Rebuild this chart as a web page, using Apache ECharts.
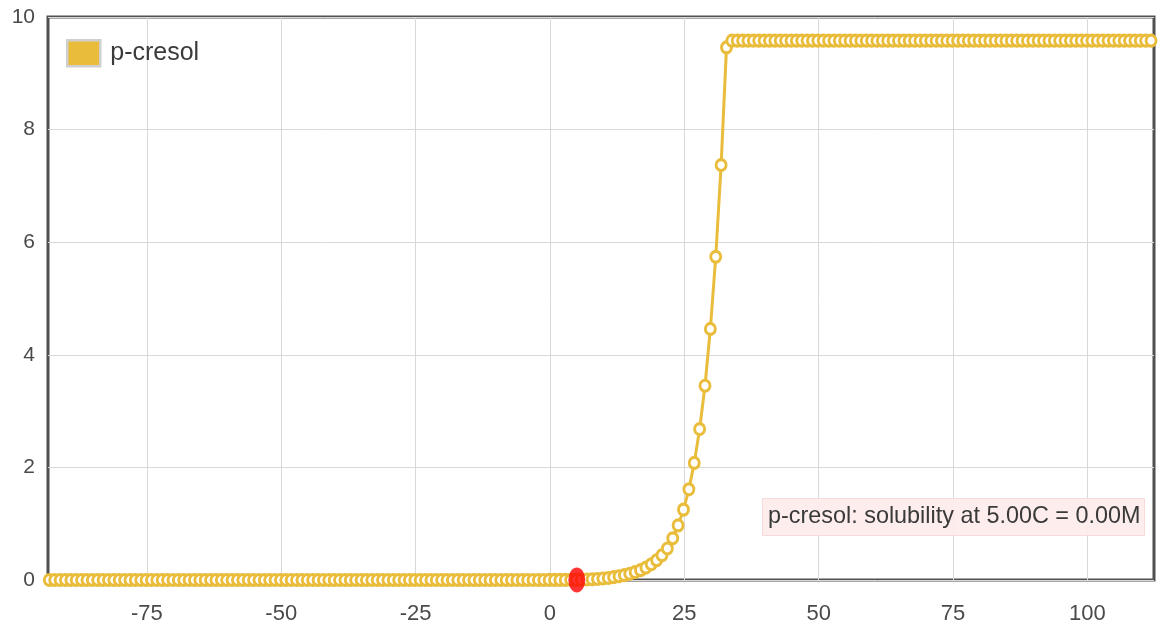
<!DOCTYPE html>
<html>
<head>
<meta charset="utf-8">
<script src="https://cdn.jsdelivr.net/npm/echarts@6/dist/echarts.min.js"></script>
<style>
  html, body { margin: 0; padding: 0; background: #fff; }
  #chart { width: 1160px; height: 629px; }
</style>
</head>
<body>
<div id="chart"></div>
<script>
// p-cresol solubility (M) versus temperature (°C), one sample per kelvin
const seriesName = 'p-cresol';

const tempC = [
  -93.15, -92.15, -91.15, -90.15, -89.15, -88.15, -87.15, -86.15, -85.15, -84.15,
  -83.15, -82.15, -81.15, -80.15, -79.15, -78.15, -77.15, -76.15, -75.15, -74.15,
  -73.15, -72.15, -71.15, -70.15, -69.15, -68.15, -67.15, -66.15, -65.15, -64.15,
  -63.15, -62.15, -61.15, -60.15, -59.15, -58.15, -57.15, -56.15, -55.15, -54.15,
  -53.15, -52.15, -51.15, -50.15, -49.15, -48.15, -47.15, -46.15, -45.15, -44.15,
  -43.15, -42.15, -41.15, -40.15, -39.15, -38.15, -37.15, -36.15, -35.15, -34.15,
  -33.15, -32.15, -31.15, -30.15, -29.15, -28.15, -27.15, -26.15, -25.15, -24.15,
  -23.15, -22.15, -21.15, -20.15, -19.15, -18.15, -17.15, -16.15, -15.15, -14.15,
  -13.15, -12.15, -11.15, -10.15, -9.15, -8.15, -7.15, -6.15, -5.15, -4.15,
  -3.15, -2.15, -1.15, -0.15, 0.85, 1.85, 2.85, 3.85, 4.85, 5.85,
  6.85, 7.85, 8.85, 9.85, 10.85, 11.85, 12.85, 13.85, 14.85, 15.85,
  16.85, 17.85, 18.85, 19.85, 20.85, 21.85, 22.85, 23.85, 24.85, 25.85,
  26.85, 27.85, 28.85, 29.85, 30.85, 31.85, 32.85, 33.85, 34.85, 35.85,
  36.85, 37.85, 38.85, 39.85, 40.85, 41.85, 42.85, 43.85, 44.85, 45.85,
  46.85, 47.85, 48.85, 49.85, 50.85, 51.85, 52.85, 53.85, 54.85, 55.85,
  56.85, 57.85, 58.85, 59.85, 60.85, 61.85, 62.85, 63.85, 64.85, 65.85,
  66.85, 67.85, 68.85, 69.85, 70.85, 71.85, 72.85, 73.85, 74.85, 75.85,
  76.85, 77.85, 78.85, 79.85, 80.85, 81.85, 82.85, 83.85, 84.85, 85.85,
  86.85, 87.85, 88.85, 89.85, 90.85, 91.85, 92.85, 93.85, 94.85, 95.85,
  96.85, 97.85, 98.85, 99.85, 100.85, 101.85, 102.85, 103.85, 104.85, 105.85,
  106.85, 107.85, 108.85, 109.85, 110.85, 111.85
];

const solubility = [
  0, 0, 0, 0, 0, 0, 0, 0, 0, 0,
  0, 0, 0, 0, 0, 0, 0, 0, 0, 0,
  0, 0, 0, 0, 0, 0, 0, 0, 0, 0,
  0, 0, 0, 0, 0, 0, 0, 0, 0, 0,
  0, 0, 0, 0, 0, 0, 0, 0, 0, 0,
  0, 0, 0, 0, 0, 0, 0, 0, 0, 0,
  0, 0, 0, 0, 0, 0, 0, 0, 0, 0,
  0, 0, 0, 0, 0, 0, 0, 0, 0, 0,
  0, 0, 0, 0, 0, 0, 0, 0, 0, 0,
  0, 0, 0, 0.001, 0.001, 0.0015, 0.002, 0.0025, 0.003, 0.005,
  0.008, 0.012, 0.018, 0.026, 0.036, 0.05, 0.066, 0.086, 0.11, 0.14,
  0.175, 0.22, 0.28, 0.35, 0.44, 0.56, 0.74, 0.97, 1.25, 1.61,
  2.08, 2.68, 3.45, 4.46, 5.74, 7.37, 9.46, 9.58, 9.58, 9.58,
  9.58, 9.58, 9.58, 9.58, 9.58, 9.58, 9.58, 9.58, 9.58, 9.58,
  9.58, 9.58, 9.58, 9.58, 9.58, 9.58, 9.58, 9.58, 9.58, 9.58,
  9.58, 9.58, 9.58, 9.58, 9.58, 9.58, 9.58, 9.58, 9.58, 9.58,
  9.58, 9.58, 9.58, 9.58, 9.58, 9.58, 9.58, 9.58, 9.58, 9.58,
  9.58, 9.58, 9.58, 9.58, 9.58, 9.58, 9.58, 9.58, 9.58, 9.58,
  9.58, 9.58, 9.58, 9.58, 9.58, 9.58, 9.58, 9.58, 9.58, 9.58,
  9.58, 9.58, 9.58, 9.58, 9.58, 9.58, 9.58, 9.58, 9.58, 9.58,
  9.58, 9.58, 9.58, 9.58, 9.58, 9.58
];

// highlighted reading
const probeTemp = [5.00];
const probeSolubility = [0.00];

// axis ticks
const xTicks = [-75, -50, -25, 0, 25, 50, 75, 100];
const yTicks = [0, 2, 4, 6, 8, 10];

const GOLD = '#E9BD3B';
const FONT = '"Liberation Sans", Arial, sans-serif';

const chart = echarts.init(document.getElementById('chart'), null, { renderer: 'canvas' });

const probeText = seriesName + ': solubility at ' + probeTemp[0].toFixed(2) +
  'C = ' + probeSolubility[0].toFixed(2) + 'M';

chart.setOption({
  animation: false,
  backgroundColor: '#fff',
  title: {
    text: probeText,
    left: 762,
    top: 498,
    padding: [5, 4, 5, 6],
    backgroundColor: 'rgba(253,235,235,0.92)',
    borderColor: '#f7dada',
    borderWidth: 1,
    textStyle: {
      fontFamily: FONT,
      fontSize: 23.4,
      lineHeight: 28,
      fontWeight: 'normal',
      color: '#3a3a3a'
    }
  },
  legend: {
    data: [seriesName],
    left: 61,
    top: 34,
    icon: 'rect',
    itemWidth: 33,
    itemHeight: 26,
    itemStyle: { color: GOLD, borderColor: '#cfcfcf', borderWidth: 2.5 },
    textStyle: {
      fontFamily: FONT,
      fontSize: 25,
      color: '#3a3a3a',
      padding: [0, 0, 0, 5]
    }
  },
  grid: {
    left: 48,
    right: 6,
    top: 17,
    bottom: 49,
    show: true,
    borderColor: '#505050',
    borderWidth: 3,
    backgroundColor: 'transparent'
  },
  xAxis: {
    type: 'value',
    min: -93.4,
    max: 112.4,
    axisLine: { show: false },
    axisTick: { show: false, customValues: xTicks },
    axisLabel: {
      customValues: xTicks,
      fontFamily: FONT,
      fontSize: 22,
      color: '#4a4a4a',
      margin: 23
    },
    splitLine: { show: true, lineStyle: { color: '#d9d9d9', width: 1 } }
  },
  yAxis: {
    type: 'value',
    min: 0,
    max: 10,
    axisLine: { show: false },
    axisTick: { show: false, customValues: yTicks },
    axisLabel: {
      customValues: yTicks,
      fontFamily: FONT,
      fontSize: 21,
      color: '#4a4a4a',
      margin: 13
    },
    splitLine: { show: true, lineStyle: { color: '#d9d9d9', width: 1 } }
  },
  series: [
    {
      name: seriesName,
      type: 'line',
      data: tempC.map((t, i) => [t, solubility[i]]),
      symbol: 'circle',
      symbolSize: [10, 11],
      showAllSymbol: true,
      lineStyle: { color: GOLD, width: 3 },
      itemStyle: { color: '#fff', borderColor: GOLD, borderWidth: 3 },
      z: 3
    },
    {
      name: 'probe',
      type: 'scatter',
      data: probeTemp.map((t, i) => [t, probeSolubility[i]]),
      symbol: 'circle',
      symbolSize: [17, 25],
      itemStyle: { color: '#ff0000' },
      z: 5
    }
  ]
});
</script>
</body>
</html>
